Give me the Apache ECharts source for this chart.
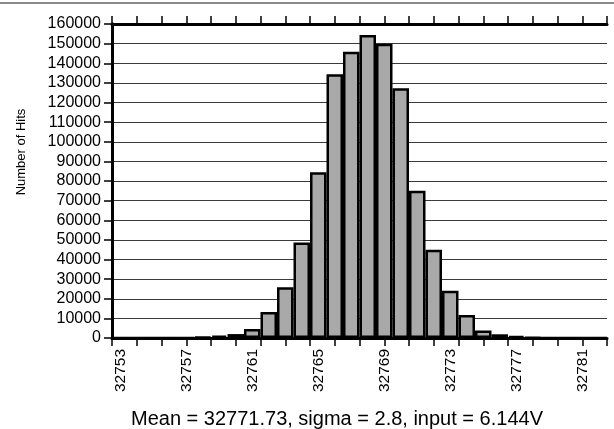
<!DOCTYPE html>
<html>
<head>
<meta charset="utf-8">
<script src="https://cdn.jsdelivr.net/npm/echarts@6/dist/echarts.min.js"></script>
<style>
html,body{margin:0;padding:0;background:#fff;}
#c{width:614px;height:429px;}
</style>
</head>
<body>
<div id="c"></div>
<script>
var categories = ['32753','32754','32755','32756','32757','32758','32759','32760','32761','32762',
  '32763','32764','32765','32766','32767','32768','32769','32770','32771','32772',
  '32773','32774','32775','32776','32777','32778','32779','32780','32781','32782'];
var hits = [0,0,0,0,100,400,1200,2000,4600,13300,
  25800,48700,84500,134400,145800,154400,150000,127300,75000,45000,
  24100,11700,3800,1900,900,300,100,0,0,0];
var yTicks = {min:0, max:160000, step:10000};
var yTitle = 'Number of Hits';
var caption = 'Mean = 32771.73, sigma = 2.8, input = 6.144V';

var FONT = 'Liberation Sans, Arial, sans-serif';
var chart = echarts.init(document.getElementById('c'), null, {renderer:'canvas'});
var tickAxisBase = {
  type:'value', min:0, max:20, interval:1,
  axisLabel:{show:false}, splitLine:{show:false},
  axisTick:{show:true, inside:false, length:8, lineStyle:{color:'#000', width:1.5}}
};
chart.setOption({
  animation:false,
  backgroundColor:'#fff',
  title:{
    text:caption, left:332, top:404, textAlign:'center',
    textStyle:{fontFamily:FONT, fontSize:20, fontWeight:'normal', color:'#000'}
  },
  graphic:[
    {type:'line', shape:{x1:0,y1:3,x2:614,y2:3}, style:{stroke:'#8a8a8a', lineWidth:2}},
    {type:'text', x:21, y:152, rotation:Math.PI/2,
     style:{text:yTitle, font:'13px ' + FONT, fill:'#000', textAlign:'center', textVerticalAlign:'middle'}}
  ],
  grid:{left:112, right:7, top:24, bottom:91, containLabel:false},
  xAxis:[
    {type:'category', data:categories, boundaryGap:true, position:'bottom',
     axisLine:{lineStyle:{color:'#000', width:3}},
     axisTick:{show:false},
     axisLabel:{interval:3, rotate:90, margin:11, color:'#000', fontFamily:FONT, fontSize:15.5},
     splitLine:{show:false}},
    Object.assign({}, tickAxisBase, {position:'bottom', axisLine:{show:false}}),
    Object.assign({}, tickAxisBase, {position:'top', axisLine:{show:true, lineStyle:{color:'#000', width:3}}})
  ],
  yAxis:[
    {type:'value', min:yTicks.min, max:yTicks.max, interval:yTicks.step, position:'left',
     axisLine:{show:true, lineStyle:{color:'#000', width:3}},
     axisTick:{show:true, length:8, lineStyle:{color:'#000', width:1.5}},
     axisLabel:{margin:11, color:'#000', fontFamily:FONT, fontSize:16,
       formatter:function(v){return String(v);}},
     splitLine:{show:true, lineStyle:{color:'#3a3a3a', width:1}}},
    {type:'value', min:yTicks.min, max:yTicks.max, interval:yTicks.step, position:'right',
     axisLine:{show:true, lineStyle:{color:'#000', width:3}},
     axisTick:{show:false}, axisLabel:{show:false}, splitLine:{show:false}}
  ],
  series:[{
    type:'bar', data:hits, xAxisIndex:0, yAxisIndex:0,
    barWidth:'100%', barCategoryGap:'0%',
    itemStyle:{color:'#a9a9a9', borderColor:'#000', borderWidth:2.5},
    emphasis:{disabled:true}
  }]
});
</script>
</body>
</html>
